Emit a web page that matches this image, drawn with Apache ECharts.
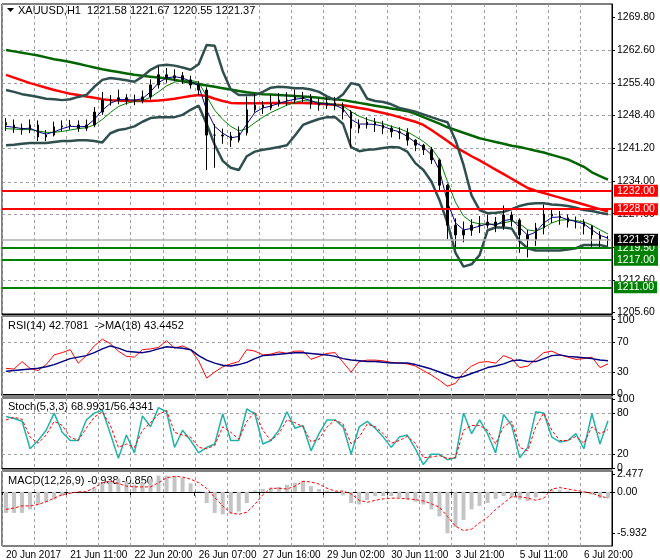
<!DOCTYPE html>
<html>
<head>
<meta charset="utf-8">
<script src="https://cdn.jsdelivr.net/npm/echarts@6/dist/echarts.min.js"></script>
<style>
  html, body { margin: 0; padding: 0; background: #fff; }
  #chart { width: 660px; height: 560px; }
</style>
</head>
<body>
<div id="chart"></div>
<script>
// date labels, one every 8 bars
const tickLabels = ['20 Jun 2017', '21 Jun 11:00', '22 Jun 20:00', '26 Jun 07:00', '27 Jun 16:00',
  '29 Jun 02:00', '30 Jun 11:00', '3 Jul 21:00', '5 Jul 11:00', '6 Jul 20:00'];
const priceTicks = [1269.8, 1262.6, 1255.4, 1248.4, 1241.2, 1234.0, 1227.0, 1219.8, 1212.6, 1205.6];

const opens = [1246.8,1246.3,1245.6,1245.2,1246.3,1243.7,1244.1,1245.9,1246.1,1246.3,1245.6,1246.3,1249.1,1251.7,1251.7,1252.2,1251.7,1251.7,1252.4,1255.0,1257.2,1256.5,1257.0,1256.1,1255.0,1253.9,1244.1,1244.1,1243.9,1243.0,1244.6,1249.6,1250.6,1250.0,1250.9,1251.7,1251.7,1252.4,1252.2,1250.9,1250.6,1251.1,1250.4,1249.1,1245.6,1246.3,1246.9,1246.3,1245.6,1244.8,1244.6,1243.0,1241.9,1240.9,1238.7,1233.2,1224.5,1222.4,1223.4,1224.5,1224.5,1225.2,1224.3,1226.7,1225.6,1222.4,1221.3,1223.9,1226.9,1226.5,1226.1,1225.2,1225.2,1224.3,1222.4,1221.3];
const closes = [1246.3,1245.6,1245.2,1246.3,1243.7,1244.1,1245.9,1246.1,1246.3,1245.6,1246.3,1249.1,1251.7,1251.7,1252.2,1251.7,1251.7,1252.4,1255.0,1257.2,1256.5,1257.0,1256.1,1255.0,1253.9,1244.1,1244.1,1243.9,1243.0,1244.6,1249.6,1250.6,1250.0,1250.9,1251.7,1251.7,1252.4,1252.2,1250.9,1250.6,1251.1,1250.4,1249.1,1245.6,1246.3,1246.9,1246.3,1245.6,1244.8,1244.6,1243.0,1241.9,1240.9,1238.7,1233.2,1224.5,1222.4,1223.4,1224.5,1224.5,1225.2,1224.3,1226.7,1225.6,1222.4,1221.3,1223.9,1226.9,1226.5,1226.1,1225.2,1225.2,1224.3,1222.4,1221.3,1221.4];
const highs = [1247.8,1247.5,1246.6,1247.5,1247.3,1245.2,1247.0,1247.3,1247.4,1247.3,1247.5,1250.2,1253.5,1252.8,1254.0,1253.0,1252.9,1253.8,1256.2,1259.0,1258.7,1258.4,1257.8,1257.0,1255.8,1254.5,1246.5,1245.5,1244.8,1246.0,1252.5,1253.0,1251.5,1252.8,1253.2,1253.4,1254.0,1253.5,1253.0,1252.0,1252.3,1252.4,1251.2,1249.5,1247.5,1248.0,1247.8,1247.2,1246.2,1245.8,1245.6,1243.2,1242.2,1241.5,1239.0,1233.5,1226.0,1225.3,1225.8,1226.5,1226.8,1226.3,1228.8,1227.5,1226.0,1223.5,1225.0,1229.0,1228.2,1227.6,1226.8,1226.4,1225.8,1224.5,1223.2,1222.2];
const lows = [1245.0,1244.6,1244.2,1244.5,1242.8,1242.8,1243.8,1245.0,1245.3,1244.8,1245.0,1245.8,1248.5,1250.5,1250.8,1250.7,1250.6,1251.0,1251.8,1254.2,1255.5,1255.8,1255.2,1254.2,1252.8,1236.5,1237.0,1242.2,1241.5,1242.5,1244.0,1249.0,1248.7,1249.5,1250.3,1250.5,1251.0,1251.2,1249.8,1249.4,1249.8,1249.5,1247.5,1241.5,1244.5,1245.5,1244.8,1244.3,1243.6,1243.2,1241.8,1240.6,1239.8,1237.8,1232.0,1221.5,1219.5,1220.8,1222.2,1222.8,1223.8,1223.0,1223.5,1224.2,1218.5,1217.5,1220.0,1222.5,1225.0,1224.6,1224.0,1223.8,1222.5,1219.8,1219.5,1220.0];

const ma200 = [1262.6,1262.3,1262.0,1261.7,1261.4,1261.0,1260.6,1260.3,1260.0,1259.6,1259.2,1258.8,1258.4,1258.1,1257.8,1257.5,1257.2,1257.0,1256.8,1256.6,1256.4,1256.1,1255.8,1255.5,1255.2,1254.9,1254.6,1254.3,1254.0,1253.7,1253.4,1253.2,1253.0,1252.9,1252.8,1252.7,1252.6,1252.5,1252.4,1252.2,1252.0,1251.9,1251.7,1251.4,1251.1,1250.8,1250.5,1250.2,1249.9,1249.6,1249.3,1248.7,1248.0,1247.3,1246.6,1245.8,1245.2,1244.6,1244.0,1243.4,1243.0,1242.6,1242.2,1241.8,1241.5,1241.1,1240.7,1240.3,1239.8,1239.3,1238.8,1238.0,1237.2,1236.0,1235.2,1234.4];
const ma100 = [1257.2,1256.6,1256.0,1255.4,1254.9,1254.4,1253.9,1253.5,1253.1,1252.8,1252.5,1252.2,1251.9,1251.7,1251.6,1251.5,1251.5,1251.5,1251.5,1251.6,1251.8,1252.0,1252.3,1252.6,1252.8,1252.6,1252.0,1251.5,1251.1,1251.0,1251.0,1251.0,1251.0,1251.1,1251.1,1251.1,1251.1,1251.1,1251.0,1250.9,1250.8,1250.7,1250.6,1250.3,1250.0,1249.7,1249.3,1248.9,1248.5,1248.0,1247.5,1247.0,1246.3,1245.2,1244.0,1242.8,1241.5,1240.5,1239.5,1238.6,1237.6,1236.6,1235.6,1234.6,1233.6,1232.6,1232.0,1231.5,1231.0,1230.5,1230.0,1229.5,1229.0,1228.5,1228.0,1227.5];
const bbUpper = [1253.9,1253.5,1253.0,1252.7,1252.4,1252.0,1251.9,1251.7,1251.9,1252.4,1252.8,1254.6,1256.1,1256.5,1256.3,1256.0,1255.7,1256.8,1258.3,1259.2,1259.4,1259.2,1258.8,1258.3,1259.5,1263.7,1263.5,1258.0,1254.0,1252.8,1252.8,1252.8,1253.5,1254.4,1254.6,1254.5,1254.3,1254.3,1254.0,1253.5,1252.5,1251.7,1253.0,1255.4,1255.0,1252.0,1251.5,1251.3,1250.8,1250.0,1249.6,1249.2,1248.6,1248.0,1247.4,1246.9,1243.0,1237.6,1231.0,1227.8,1227.1,1227.2,1227.4,1228.0,1228.7,1229.1,1229.3,1229.3,1229.0,1228.9,1228.7,1228.3,1227.8,1227.6,1227.2,1226.9];
const bbLower = [1241.9,1242.0,1242.2,1242.4,1242.4,1242.4,1242.6,1242.8,1242.8,1243.0,1243.0,1242.8,1242.5,1244.5,1245.2,1245.5,1246.0,1247.0,1247.8,1248.0,1248.0,1248.0,1248.5,1249.6,1250.5,1246.5,1242.0,1238.5,1237.0,1236.5,1239.5,1240.5,1240.9,1241.2,1241.5,1241.9,1244.0,1246.3,1247.0,1247.6,1248.0,1248.0,1246.5,1241.5,1240.6,1240.9,1241.0,1241.3,1241.5,1241.4,1240.5,1238.0,1236.5,1234.0,1230.0,1225.0,1218.5,1215.5,1216.0,1218.0,1223.4,1224.0,1224.0,1223.8,1221.0,1219.5,1219.0,1219.0,1219.0,1219.0,1219.2,1219.5,1220.2,1220.2,1220.2,1219.8];
const maFast = [1246.0,1245.8,1245.5,1245.6,1244.8,1244.3,1244.8,1245.5,1246.0,1245.9,1246.0,1247.5,1249.5,1251.0,1251.8,1251.8,1251.7,1252.0,1253.5,1255.5,1256.5,1256.8,1256.5,1255.8,1254.8,1249.5,1246.0,1244.5,1243.5,1243.8,1246.5,1249.0,1250.0,1250.4,1251.0,1251.5,1251.9,1252.1,1251.6,1250.9,1250.9,1250.6,1249.8,1247.5,1246.5,1246.5,1246.4,1246.0,1245.3,1244.8,1243.8,1242.5,1241.5,1239.8,1236.5,1229.5,1225.0,1223.5,1223.8,1224.3,1224.8,1224.5,1225.5,1225.8,1224.0,1222.3,1223.0,1225.0,1226.2,1226.3,1225.7,1225.3,1224.8,1223.5,1222.3,1221.7];
const maMid = [1245.5,1245.4,1245.3,1245.3,1245.0,1244.7,1244.7,1244.9,1245.2,1245.5,1245.7,1246.3,1247.5,1249.0,1250.3,1251.0,1251.4,1251.6,1252.3,1253.5,1254.8,1255.6,1256.0,1256.0,1255.6,1252.5,1249.5,1247.5,1246.0,1245.0,1245.5,1246.8,1248.0,1249.0,1249.8,1250.6,1251.2,1251.6,1251.5,1251.2,1251.0,1250.8,1250.4,1249.2,1248.2,1247.5,1247.0,1246.6,1246.0,1245.5,1244.8,1243.8,1242.7,1241.3,1238.8,1234.0,1229.5,1226.5,1225.2,1224.8,1224.8,1224.7,1225.0,1225.4,1224.8,1223.5,1223.2,1224.0,1225.0,1225.6,1225.7,1225.5,1225.2,1224.5,1223.5,1222.6];

const rsi = [35,34,44,35,32,40,53,56,60,42,52,65,74,68,58,51,50,60,61,63,72,62,65,60,45,22,30,37,41,44,60,58,53,54,57,55,58,58,47,51,55,56,43,30,44,46,46,45,43,42,41,38,32,26,19,11,15,29,38,43,44,42,52,48,36,38,47,56,58,53,50,47,48,50,36,41];
const rsiMa = [31,32,33,34,35,37,40,44,48,50,52,56,61,65,62,58,57,56,58,61,64,63,62,60,52,46,42,39,38,40,43,48,52,53,54,55,56,56,55,54,53,51,48,46,45,44,44,43,42,42,42,40,37,34,30,26,22,24,28,32,36,38,41,45,46,44,44,48,52,53,51,50,49,48,46,45];
const stochK = [75,72,68,28,40,55,80,52,40,40,70,80,84,50,14,48,22,76,60,88,82,30,55,40,22,30,35,79,40,40,86,79,35,40,55,82,58,62,25,50,70,70,60,20,60,68,58,45,30,45,48,28,5,20,20,12,15,80,50,70,50,22,78,62,15,30,82,80,45,38,40,50,28,79,35,69];
const stochD = [70,74,71,45,36,48,68,62,45,40,58,74,82,62,30,35,30,55,66,78,84,52,48,45,30,28,33,60,52,42,68,82,55,40,50,70,66,60,38,42,60,70,64,35,45,64,60,50,36,40,46,36,15,16,18,14,15,55,62,62,55,35,60,68,30,25,60,80,55,40,40,46,36,60,50,56];
const macdHist = [-3.0,-3.0,-3.0,-2.5,-1.8,-1.5,-1.1,-0.6,-0.3,0.0,0.1,0.5,1.3,1.6,1.9,1.5,1.0,1.3,1.8,2.3,2.3,2.2,2.0,1.2,0.1,-1.6,-3.0,-3.2,-3.1,-2.8,-1.6,0.2,0.4,0.6,0.7,1.0,1.3,1.5,0.8,0.4,0.2,0.0,-0.5,-1.6,-1.8,-1.2,-0.6,-0.6,-0.6,-0.8,-1.1,-1.4,-1.8,-2.5,-3.5,-5.9,-5.0,-4.0,-2.5,-2.0,-1.6,-1.0,-0.6,-0.8,-1.1,-1.3,-0.8,0.1,0.4,0.3,0.1,0.0,-0.2,-0.4,-0.9,-0.9];
const macdSignal = [-2.5,-2.3,-2.0,-2.0,-1.8,-1.4,-0.9,-0.4,-0.2,0.0,0.0,0.6,1.3,1.5,1.2,0.8,0.7,0.7,0.7,1.3,2.0,2.2,2.1,1.8,1.3,0.5,-0.8,-2.0,-3.0,-3.2,-2.9,-1.8,-0.4,0.5,0.5,0.4,0.8,1.5,1.4,1.1,0.5,0.1,0.1,-0.3,-1.2,-1.5,-1.2,-1.0,-0.9,-0.9,-1.0,-1.1,-1.3,-1.7,-2.2,-3.5,-4.9,-5.5,-5.3,-4.4,-3.6,-2.5,-1.6,-0.7,-0.7,-0.9,-1.2,-0.9,0.4,0.6,0.4,0.2,0.0,-0.2,-0.6,-0.9];

// support / resistance levels
const redLevels = [1232.0, 1228.0];
const greenLevels = [1219.5, 1217.0, 1211.0];
const lastPrice = 1221.37;
// dashed horizontal guides in each panel
const priceGuides = priceTicks.slice(1, 9);
const rsiGuides = [70, 30];
const stochGuides = [80, 20];

const FONT = 'Liberation Sans';
const GRID = '#a0a0a0';
const categories = closes.map((c, i) => 'b' + i);
const dateText = (v, i) => (i % 8 === 0 ? tickLabels[i / 8] : '');
const candles = closes.map((c, i) => [opens[i], c, lows[i], highs[i]]);
const vGridIdx = closes.map((c, i) => i).filter(i => i % 4 === 0);

const ranges = [[1205.2, 1272.6], [-2, 105], [-1.5, 102], [-7.7, 2.96]];

const grids = [
  { left: 2, right: 48, top: 4, height: 310 },
  { left: 2, right: 48, top: 316, height: 80 },
  { left: 2, right: 48, top: 398, height: 71 },
  { left: 2, right: 48, top: 471, height: 77 }
].map(g => Object.assign(g, { show: true, borderColor: '#000', borderWidth: 1 }));

const xAxes = grids.map((g, k) => ({
  type: 'category', gridIndex: k, data: categories,
  axisLine: { lineStyle: { color: '#000' } },
  axisTick: { show: k === 3, interval: 7, length: 4, lineStyle: { color: '#000' } },
  axisLabel: { show: k === 3, interval: 7, align: 'left', margin: 4, formatter: dateText,
    fontFamily: FONT, fontSize: 10, color: '#000' },
  splitLine: { show: false }
}));

function yAx(k, labels, fmt) {
  return {
    type: 'value', gridIndex: k, position: 'right', min: ranges[k][0], max: ranges[k][1],
    axisLine: { show: true, lineStyle: { color: '#000' } },
    axisTick: { show: true, customValues: labels, length: 3, lineStyle: { color: '#000' } },
    axisLabel: { customValues: labels, formatter: fmt, margin: 5, fontFamily: FONT, fontSize: 10.5, color: '#000' },
    splitLine: { show: false }
  };
}

const yAxes = [
  yAx(0, priceTicks, v => v.toFixed(2)),
  yAx(1, [100, 70, 30, 0], v => String(v)),
  yAx(2, [100, 80, 20, 0], v => String(v)),
  yAx(3, [2.477, 0, -5.932], v => (v === 0 ? '0.00' : v.toFixed(3)))
];

function line(name, data, k, color, width, dashed) {
  return { name: name, type: 'line', data: data, xAxisIndex: k, yAxisIndex: k, symbol: 'none',
    lineStyle: { color: color, width: width, type: dashed ? [3, 2] : 'solid' } };
}

const dashStyle = { stroke: GRID, lineWidth: 1, lineDash: [3, 3], fill: null };

// dashed grid lines drawn by a custom series in each panel
function vGrid(k) {
  return {
    type: 'custom', xAxisIndex: k, yAxisIndex: k, silent: true, z: 1, clip: false,
    data: vGridIdx.map(i => [i]),
    encode: { x: 0 },
    renderItem: function (params, api) {
      const cs = params.coordSys;
      const x = Math.round(api.coord([api.value(0), ranges[k][0]])[0] - api.size([1, 0])[0] / 2) + 0.5;
      return { type: 'line', shape: { x1: x, y1: cs.y, x2: x, y2: cs.y + cs.height }, style: dashStyle };
    }
  };
}

function hGrid(k, vals) {
  return {
    type: 'custom', xAxisIndex: k, yAxisIndex: k, silent: true, z: 1, clip: false,
    data: vals.map(v => [0, v]),
    encode: { x: 0, y: 1 },
    renderItem: function (params, api) {
      const cs = params.coordSys;
      const y = Math.round(api.coord([0, api.value(1)])[1]) + 0.5;
      return { type: 'line', shape: { x1: cs.x, y1: y, x2: cs.x + cs.width, y2: y }, style: dashStyle };
    }
  };
}

function levelLine(v, bg, lineColor, w) {
  return { yAxis: v, lineStyle: { color: lineColor, width: w, type: 'solid' },
    label: { show: true, position: 'end', distance: 2, formatter: v.toFixed(2),
      backgroundColor: bg, color: '#fff', padding: [1, 3, 0, 3],
      fontFamily: FONT, fontSize: 10.5 } };
}

const levels = []
  .concat(redLevels.map(v => levelLine(v, '#ff0000', '#ff0000', 2)))
  .concat(greenLevels.map(v => levelLine(v, '#008000', '#008000', 2)))
  .concat([levelLine(lastPrice, '#000', '#b0b0b0', 1.5)]);

const series = [
  vGrid(0), vGrid(1), vGrid(2), vGrid(3),
  hGrid(0, priceGuides), hGrid(1, rsiGuides), hGrid(2, stochGuides),
  {
    name: 'XAUUSD', type: 'candlestick', data: candles, barMaxWidth: 2, z: 3,
    itemStyle: { color: '#000', color0: '#000', borderColor: '#000', borderColor0: '#000', borderWidth: 1 },
    markLine: { symbol: 'none', silent: true, data: levels }
  },
  line('MA200', ma200, 0, '#006400', 2.5),
  line('MA100', ma100, 0, '#ff0000', 2.5),
  line('BB upper', bbUpper, 0, '#2f4f4f', 2.5),
  line('BB lower', bbLower, 0, '#2f4f4f', 2.5),
  line('MA mid', maMid, 0, '#008000', 1),
  line('MA fast', maFast, 0, '#00008b', 1),
  line('RSI', rsi, 1, '#ff0000', 1),
  line('RSI MA', rsiMa, 1, '#000080', 1.5),
  line('%K', stochK, 2, '#20b2aa', 1.5),
  line('%D', stochD, 2, '#ff0000', 1, true),
  { name: 'MACD', type: 'bar', data: macdHist, xAxisIndex: 3, yAxisIndex: 3, barWidth: 4,
    itemStyle: { color: '#c4c4c4' } },
  line('Signal', macdSignal, 3, '#ff0000', 1, true)
];

function title(text, x, y) {
  return { type: 'text', left: x, top: y, silent: true,
    style: { text: text, fontFamily: FONT, fontSize: 11, fill: '#000' } };
}

const chart = echarts.init(document.getElementById('chart'));
chart.setOption({
  animation: false,
  grid: grids,
  xAxis: xAxes,
  yAxis: yAxes,
  series: series,
  graphic: [
    { type: 'polygon', shape: { points: [[7, 8], [14, 8], [10.5, 12]] }, style: { fill: '#000' }, silent: true },
    title('XAUUSD,H1  1221.58 1221.67 1220.55 1221.37', 18, 5),
    title('RSI(14) 42.7081  ->MA(18) 43.4452', 8, 320),
    title('Stoch(5,3,3) 68.9931/56.4341', 8, 401),
    title('MACD(12,26,9) -0.938 -0.850', 8, 475)
  ]
});
</script>
</body>
</html>
